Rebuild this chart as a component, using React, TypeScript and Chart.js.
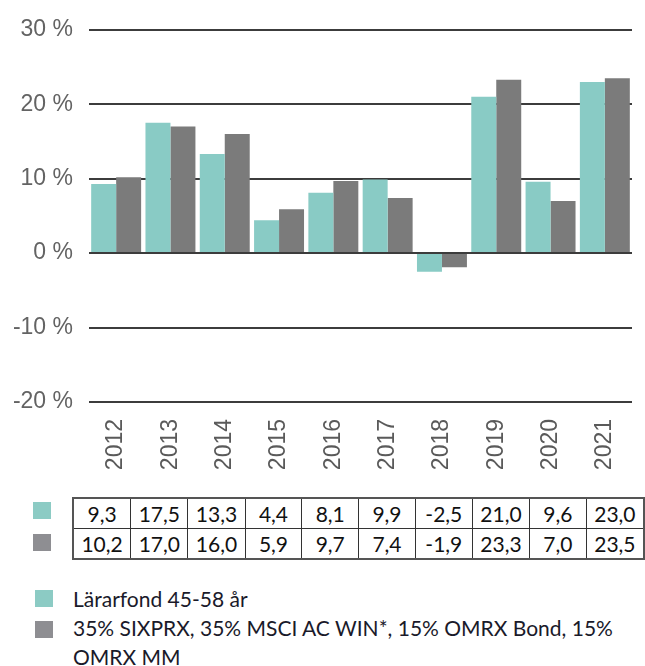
import React, { useEffect, useRef } from 'react';
import { Chart, registerables } from 'chart.js';

Chart.register(...registerables);

const years = ['2012', '2013', '2014', '2015', '2016', '2017', '2018', '2019', '2020', '2021'];
const fundValues = [9.3, 17.5, 13.3, 4.4, 8.1, 9.9, -2.5, 21.0, 9.6, 23.0];
const benchmarkValues = [10.2, 17.0, 16.0, 5.9, 9.7, 7.4, -1.9, 23.3, 7.0, 23.5];
const yMin = -20;
const yMax = 30;
const yStep = 10;
const fundLabel = 'Lärarfond 45-58 år';
const benchmarkLine1 = '35% SIXPRX, 35% MSCI AC WIN*, 15% OMRX Bond, 15%';
const benchmarkLine2 = 'OMRX MM';

const TEAL = '#89cbc5';
const GRAY = '#7b7b7b';
const TEAL_KEY = '#8ccbc4';
const GRAY_KEY = '#8e8e92';

const fmt = (v: number) => v.toFixed(1).replace('.', ',');

export default function App() {
  const ref = useRef<HTMLCanvasElement | null>(null);

  useEffect(() => {
    document.body.style.margin = '0';
    if (!ref.current) return;
    const chart = new Chart(ref.current, {
      type: 'bar',
      data: {
        labels: years,
        datasets: [
          { label: fundLabel, data: fundValues, backgroundColor: TEAL, borderWidth: 0 },
          { label: benchmarkLine1 + ' ' + benchmarkLine2, data: benchmarkValues, backgroundColor: GRAY, borderWidth: 0 },
        ],
      },
      options: {
        animation: false,
        responsive: false,
        layout: { padding: { top: 26, right: 13, left: 0, bottom: 0 } },
        plugins: { legend: { display: false }, tooltip: { enabled: false } },
        datasets: { bar: { categoryPercentage: 0.92, barPercentage: 1 } },
        scales: {
          x: {
            grid: { display: false },
            border: { display: false },
            ticks: {
              minRotation: 90,
              maxRotation: 90,
              color: '#5a5a5a',
              padding: 9,
              font: { family: 'Liberation Sans', size: 23 },
            },
            afterFit: (s: any) => { s.height = 80; },
          },
          y: {
            min: yMin,
            max: yMax,
            ticks: {
              stepSize: yStep,
              color: '#636363',
              padding: 16,
              font: { family: 'Liberation Sans', size: 23 },
              callback: (v: any) => `${v} %`,
            },
            grid: { color: '#3c3c3c', lineWidth: 2, drawTicks: false },
            border: { display: false },
            afterFit: (s: any) => { s.width = 89; },
          },
        },
      },
    });
    return () => chart.destroy();
  }, []);

  const font = 'Lato, "Open Sans", sans-serif';
  const cell: React.CSSProperties = {
    border: '1px solid #333',
    textAlign: 'center',
    padding: 0,
    height: 29,
    width: 56.8,
    fontFamily: font,
    fontSize: 21,
    lineHeight: '28px',
    color: '#111',
  };

  return (
    <div style={{ position: 'absolute', left: 0, top: 0, width: 645, height: 666, background: '#fff', overflow: 'hidden', fontFamily: font }}>
      <canvas ref={ref} width={645} height={482} style={{ display: 'block' }} />
      <div style={{ position: 'absolute', left: 33, top: 502, width: 18, height: 17, background: TEAL_KEY }} />
      <div style={{ position: 'absolute', left: 33, top: 534, width: 18, height: 17, background: GRAY_KEY }} />
      <table
        style={{
          position: 'absolute',
          left: 72,
          top: 497,
          borderCollapse: 'collapse',
          border: '2px solid #555',
          tableLayout: 'fixed',
        }}
      >
        <tbody>
          <tr>
            {fundValues.map((v, i) => (
              <td key={i} style={cell}>{fmt(v)}</td>
            ))}
          </tr>
          <tr>
            {benchmarkValues.map((v, i) => (
              <td key={i} style={cell}>{fmt(v)}</td>
            ))}
          </tr>
        </tbody>
      </table>
      <div style={{ position: 'absolute', left: 35, top: 590, width: 18, height: 17, background: TEAL_KEY }} />
      <div style={{ position: 'absolute', left: 35, top: 621, width: 18, height: 17, background: GRAY_KEY }} />
      <div style={{ position: 'absolute', left: 73, top: 584, fontSize: 21, lineHeight: '29px', color: '#1a1a2a', whiteSpace: 'nowrap' }}>
        <div>{fundLabel}</div>
        <div>{benchmarkLine1}</div>
        <div>{benchmarkLine2}</div>
      </div>
    </div>
  );
}
